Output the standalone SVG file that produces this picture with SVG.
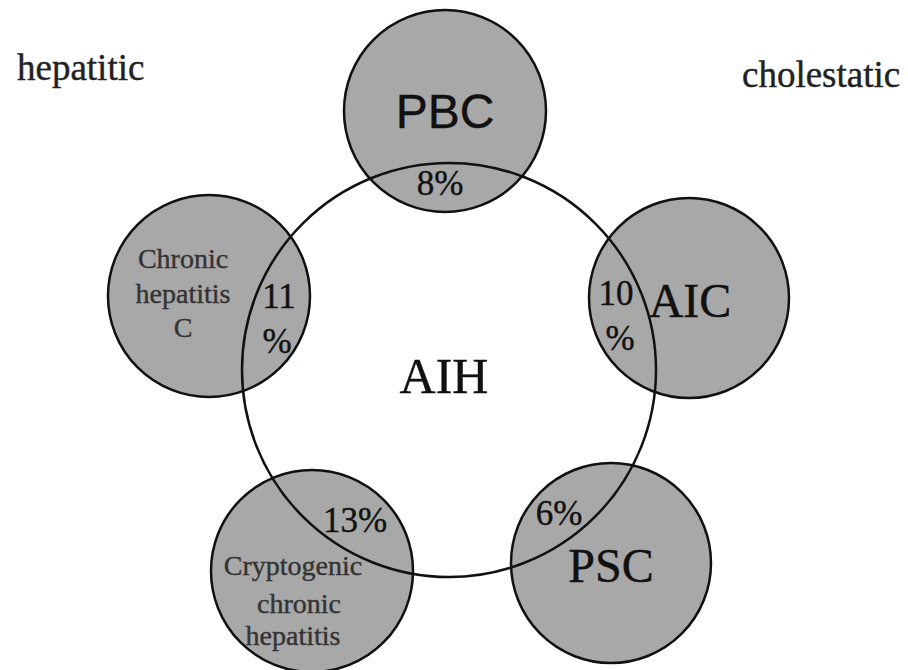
<svg xmlns="http://www.w3.org/2000/svg" width="908" height="670" viewBox="0 0 908 670">
<style>
.sat{fill:#a8a8a8;stroke:#111;stroke-width:2.5}
.main{fill:none;stroke:#111;stroke-width:2.5}
.serif{font-family:"Liberation Serif","Times New Roman",serif;fill:#111;stroke:#111;stroke-width:0.4;text-anchor:middle}
.sans{font-family:"Liberation Sans",Arial,sans-serif;fill:#111;stroke:#111;stroke-width:0.4;text-anchor:middle}
.small{font-size:28px;fill:#333;stroke:#333}
.pct{font-size:35px}
.big{font-size:48px}
.side{font-family:"Liberation Serif","Times New Roman",serif;font-size:37px;fill:#222;stroke:#222;stroke-width:0.4}
</style>
<rect width="908" height="670" fill="#fff"/>
<g id="PBC">
<circle class="sat" cx="445" cy="111" r="101"/>
<text class="sans big" x="445" y="128">PBC</text>
</g>
<g id="CHC">
<circle class="sat" cx="209" cy="296" r="101"/>
<text class="serif small" x="183" y="268">Chronic</text>
<text class="serif small" x="183" y="303">hepatitis</text>
<text class="serif small" x="183" y="337">C</text>
</g>
<g id="AIC">
<circle class="sat" cx="689" cy="298" r="100"/>
<text class="serif big" x="690" y="317">AIC</text>
</g>
<g id="CCH">
<circle class="sat" cx="312" cy="571" r="101"/>
<text class="serif small" x="293" y="575">Cryptogenic</text>
<text class="serif small" x="299" y="613">chronic</text>
<text class="serif small" x="293" y="645">hepatitis</text>
</g>
<g id="PSC">
<circle class="sat" cx="611" cy="563" r="100"/>
<text class="serif big" x="611" y="582">PSC</text>
</g>
<g id="AIH">
<circle class="main" cx="449" cy="370" r="207"/>
<text class="serif" x="444" y="393" font-size="50">AIH</text>
<text class="serif pct" x="440" y="195">8%</text>
<text class="serif pct" x="279" y="308">11</text>
<text class="serif pct" x="277" y="353">%</text>
<text class="serif pct" x="616" y="305">10</text>
<text class="serif pct" x="620" y="350">%</text>
<text class="serif pct" x="355" y="532">13%</text>
<text class="serif pct" x="559" y="525">6%</text>
</g>
<g id="labels">
<text class="side" x="17" y="80">hepatitic</text>
<text class="side" x="742" y="87">cholestatic</text>
</g>
</svg>
